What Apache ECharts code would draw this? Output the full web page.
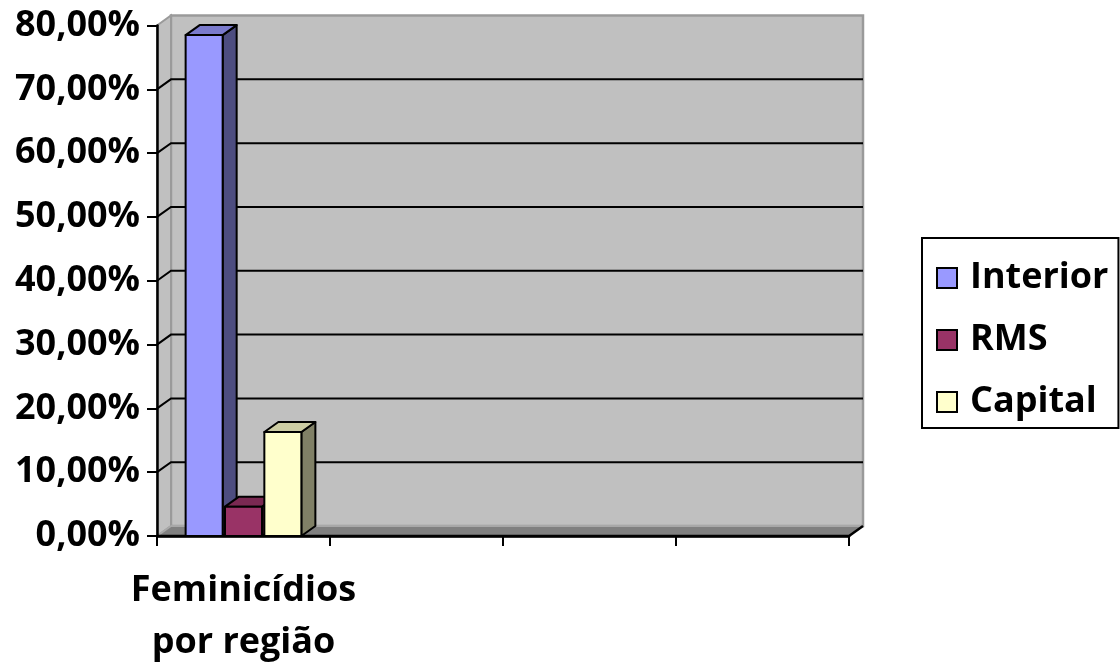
<!DOCTYPE html>
<html>
<head>
<meta charset="utf-8">
<script src="https://cdn.jsdelivr.net/npm/echarts@6/dist/echarts.min.js"></script>
<style>
  html, body { margin: 0; padding: 0; background: #ffffff; }
  #chart { width: 1120px; height: 662px; }
</style>
</head>
<body>
<div id="chart"></div>
<script>
// Category slots along the floor; only the first one carries data
const categories = ['Feminicídios\npor região', '', '', ''];
// Share of cases per region (percent)
const interior = [78.5, null, null, null];
const rms = [4.6, null, null, null];
const capital = [16.3, null, null, null];
const seriesNames = ['Interior', 'RMS', 'Capital'];
const yTicks = [0, 10, 20, 30, 40, 50, 60, 70, 80];

const FONT = 'Open Sans';
const DX = 14;   // depth offset, horizontal
const DY = -10;  // depth offset, vertical

function shade(hex, f) {
  const n = parseInt(hex.slice(1), 16);
  const r = Math.round(((n >> 16) & 255) * f);
  const g = Math.round(((n >> 8) & 255) * f);
  const b = Math.round((n & 255) * f);
  return 'rgb(' + r + ',' + g + ',' + b + ')';
}

// Back wall, left side wall, floor and wall gridlines
function renderWalls(params, api) {
  const cs = params.coordSys;
  const x0 = cs.x, x1 = cs.x + cs.width;
  const yTop = cs.y, yBot = cs.y + cs.height;
  const children = [];
  const wallStroke = '#9a9a9a';
  // back wall
  children.push({
    type: 'polygon',
    shape: { points: [[x0 + DX, yTop + DY], [x1 + DX, yTop + DY], [x1 + DX, yBot + DY], [x0 + DX, yBot + DY]] },
    style: { fill: '#c0c0c0', stroke: wallStroke, lineWidth: 2.5 }
  });
  // side wall
  children.push({
    type: 'polygon',
    shape: { points: [[x0, yTop], [x0 + DX, yTop + DY], [x0 + DX, yBot + DY], [x0, yBot]] },
    style: { fill: '#c0c0c0', stroke: wallStroke, lineWidth: 2 }
  });
  // floor
  children.push({
    type: 'polygon',
    shape: { points: [[x0, yBot], [x0 + DX, yBot + DY], [x1 + DX, yBot + DY], [x1, yBot]] },
    style: { fill: '#808080', stroke: 'none' }
  });
  children.push({
    type: 'polyline',
    shape: { points: [[x0, yBot], [x0 + DX, yBot + DY]] },
    style: { stroke: '#a8a8a8', lineWidth: 2, fill: 'none' }
  });
  children.push({
    type: 'polyline',
    shape: { points: [[x0 + DX, yBot + DY], [x1 + DX, yBot + DY]] },
    style: { stroke: '#a8a8a8', lineWidth: 2, fill: 'none' }
  });
  children.push({
    type: 'polyline',
    shape: { points: [[x0, yBot], [x1, yBot], [x1 + DX, yBot + DY]] },
    style: { stroke: '#000000', lineWidth: 2.5, fill: 'none' }
  });
  // gridlines on back wall and side wall
  yTicks.forEach(function (v) {
    if (v === 0 || v === yTicks[yTicks.length - 1]) return;
    const y = api.coord([0, v])[1];
    children.push({
      type: 'polyline',
      shape: { points: [[x0, y], [x0 + DX, y + DY], [x1 + DX, y + DY]] },
      style: { stroke: '#000000', lineWidth: 2, fill: 'none' }
    });
  });
  return { type: 'group', children: children };
}

// 3-D column: front face, top face and right side face
function makeBarRenderer(slot, count) {
  return function (params, api) {
    const cat = api.value(0);
    const val = api.value(1);
    const base = api.coord([cat, 0]);
    const top = api.coord([cat, val]);
    const band = api.size([1, 0])[0];
    const barW = band * 0.214;
    const step = band * 0.2275;
    const cx = base[0] + (slot - (count - 1) / 2) * step;
    const l = cx - barW / 2, r = cx + barW / 2;
    const yb = base[1], yt = top[1];
    const color = api.visual('color');
    const line = { stroke: '#000000', lineWidth: 2, lineJoin: 'round' };
    return {
      type: 'group',
      children: [
        {
          type: 'polygon',
          shape: { points: [[r, yt], [r + DX, yt + DY], [r + DX, yb + DY], [r, yb]] },
          style: Object.assign({ fill: shade(color, 0.5) }, line)
        },
        {
          type: 'polygon',
          shape: { points: [[l, yt], [l + DX, yt + DY], [r + DX, yt + DY], [r, yt]] },
          style: Object.assign({ fill: shade(color, 0.8) }, line)
        },
        {
          type: 'rect',
          shape: { x: l, y: yt, width: barW, height: yb - yt },
          style: Object.assign({ fill: color }, line)
        }
      ]
    };
  };
}

const colors = ['#9999ff', '#993366', '#ffffcc'];
const valueLists = [interior, rms, capital];

function toData(list) {
  const out = [];
  list.forEach(function (v, i) { if (v != null) out.push([i, v]); });
  return out;
}

const barSeries = seriesNames.map(function (name, i) {
  return {
    type: 'custom',
    name: name,
    coordinateSystem: 'cartesian2d',
    renderItem: makeBarRenderer(i, seriesNames.length),
    itemStyle: { color: colors[i], borderColor: '#000000', borderWidth: 2 },
    encode: { x: 0, y: 1 },
    data: toData(valueLists[i]),
    z: 3 + i
  };
});

const chart = echarts.init(document.getElementById('chart'), null, { renderer: 'canvas' });
chart.setOption({
  animation: false,
  backgroundColor: '#ffffff',
  grid: { left: 157, right: 271, top: 25.5, bottom: 126, containLabel: false, outerBoundsMode: 'none' },
  xAxis: {
    type: 'category',
    data: categories,
    boundaryGap: true,
    axisLine: { show: true, lineStyle: { color: '#000000', width: 2.5 } },
    axisTick: { show: true, length: 10, lineStyle: { color: '#000000', width: 2 } },
    axisLabel: {
      show: true, interval: 0, margin: 29,
      color: '#000000', fontFamily: FONT, fontWeight: 'bold', fontSize: 36, lineHeight: 52
    },
    splitLine: { show: false },
    z: 5
  },
  yAxis: {
    type: 'value',
    min: 0, max: 80, interval: 10,
    axisLine: { show: true, lineStyle: { color: '#000000', width: 2.5 } },
    axisTick: { show: true, length: 10, lineStyle: { color: '#000000', width: 2 } },
    axisLabel: {
      margin: 17, color: '#000000', fontFamily: FONT, fontWeight: 'bold', fontSize: 36,
      padding: [17, 0, 0, 0],
      formatter: function (v) { return v.toFixed(2).replace('.', ',') + '%'; }
    },
    splitLine: { show: false },
    z: 5
  },
  legend: {
    orient: 'vertical',
    left: 922, top: 238,
    data: seriesNames,
    icon: 'rect',
    itemWidth: 20, itemHeight: 20,
    itemGap: 22,
    padding: [20, 10, 6, 14],
    borderColor: '#000000', borderWidth: 2,
    itemStyle: { borderColor: '#000000', borderWidth: 2 },
    textStyle: { color: '#000000', fontFamily: FONT, fontWeight: 'bold', fontSize: 36, lineHeight: 40, padding: [0, 0, 0, 8] },
    selectedMode: false
  },
  series: [
    {
      type: 'custom',
      name: 'walls',
      coordinateSystem: 'cartesian2d',
      renderItem: renderWalls,
      data: [[0, 0]],
      silent: true,
      z: 1
    }
  ].concat(barSeries)
});
</script>
</body>
</html>
